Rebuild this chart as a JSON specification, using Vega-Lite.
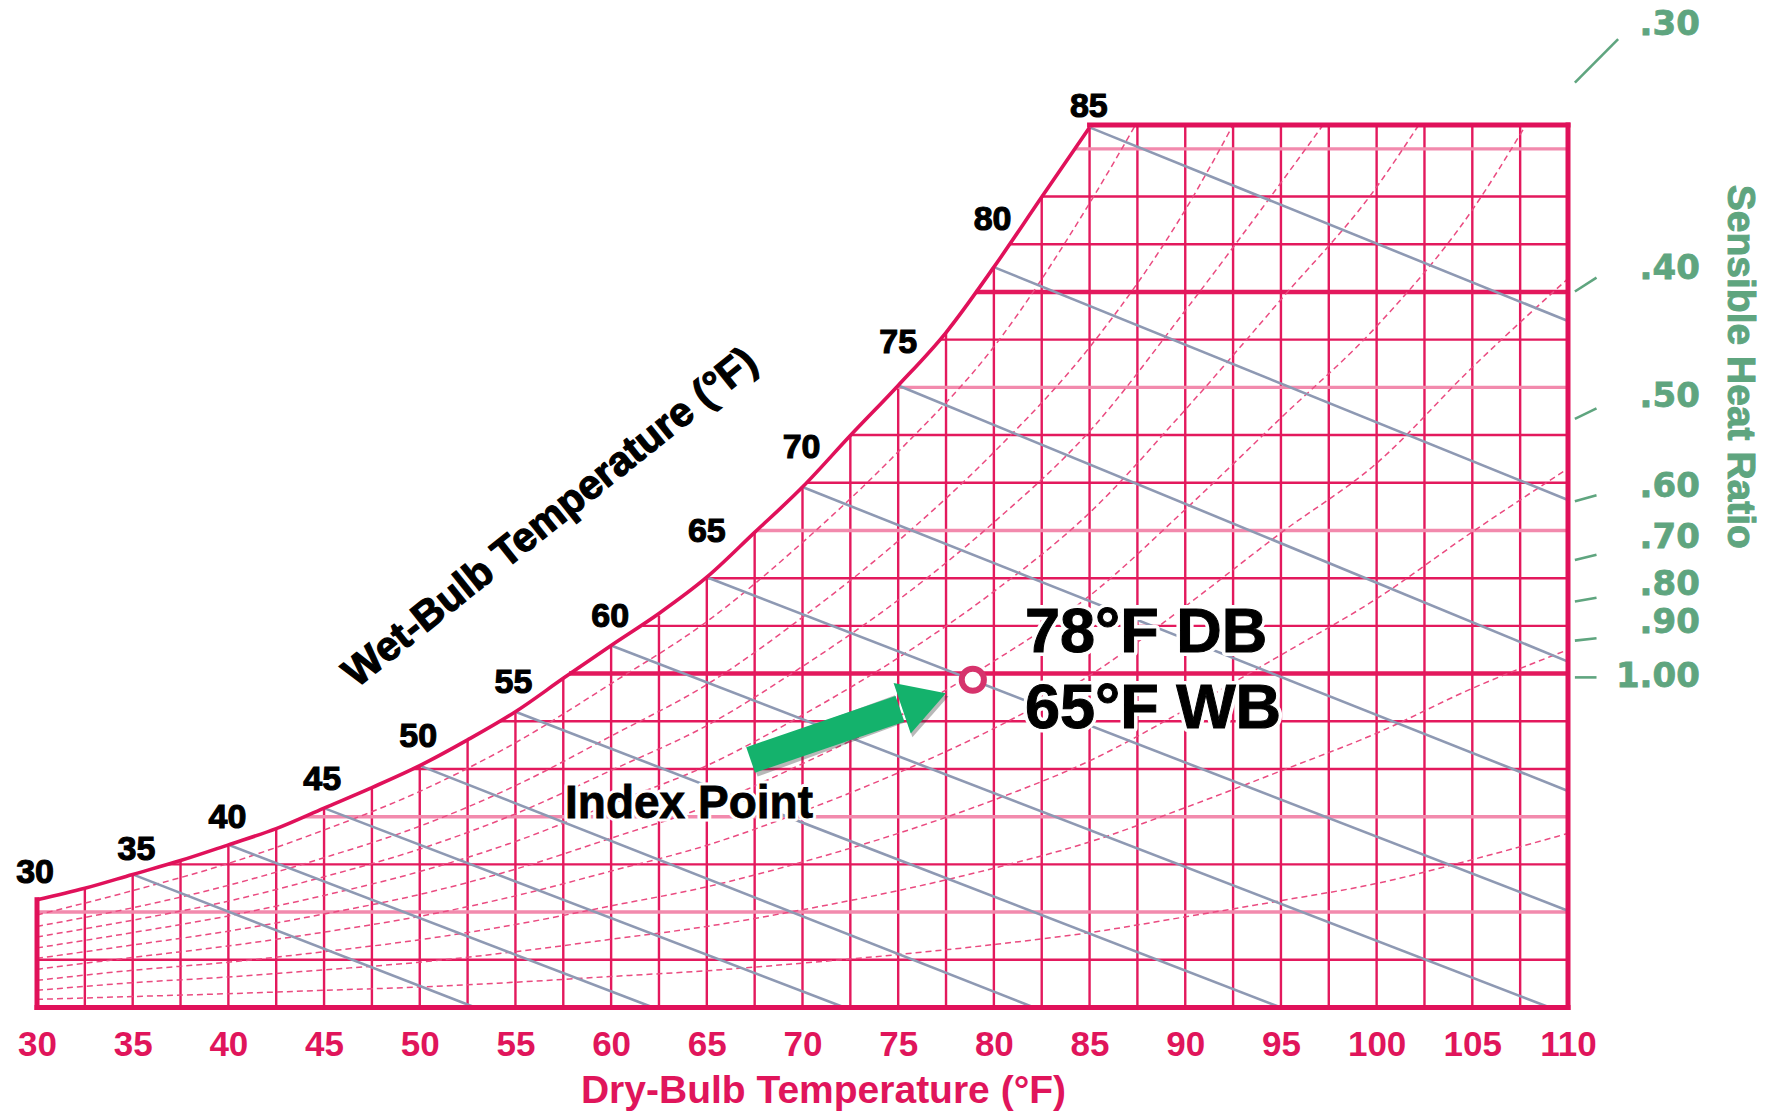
{
  "$schema": "https://vega.github.io/schema/vega-lite/v6.json",
  "autosize": {"type": "none"},
  "width": 1531,
  "height": 882.5,
  "padding": {"left": 37, "top": 125, "right": 205, "bottom": 103.5},
  "background": "white",
  "config": {"view": {"stroke": null}},
  "datasets": {
    "vlines": [
      {"db": 32.5, "w": 0, "w2": 25.0}, {"db": 35, "w": 0, "w2": 27.9}, {"db": 37.5, "w": 0, "w2": 30.8},
      {"db": 40, "w": 0, "w2": 34.1}, {"db": 42.5, "w": 0, "w2": 37.5}, {"db": 45, "w": 0, "w2": 41.8},
      {"db": 47.5, "w": 0, "w2": 46.1}, {"db": 50, "w": 0, "w2": 50.7}, {"db": 52.5, "w": 0, "w2": 56.1},
      {"db": 55, "w": 0, "w2": 62.0}, {"db": 57.5, "w": 0, "w2": 69.2}, {"db": 60, "w": 0, "w2": 75.9},
      {"db": 62.5, "w": 0, "w2": 82.2}, {"db": 65, "w": 0, "w2": 90.2}, {"db": 67.5, "w": 0, "w2": 99.6},
      {"db": 70, "w": 0, "w2": 109.1}, {"db": 72.5, "w": 0, "w2": 119.9}, {"db": 75, "w": 0, "w2": 130.4},
      {"db": 77.5, "w": 0, "w2": 141.5}, {"db": 80, "w": 0, "w2": 155.2}, {"db": 82.5, "w": 0, "w2": 169.9},
      {"db": 85, "w": 0, "w2": 184.5}, {"db": 87.5, "w": 0, "w2": 185}, {"db": 90, "w": 0, "w2": 185},
      {"db": 92.5, "w": 0, "w2": 185}, {"db": 95, "w": 0, "w2": 185}, {"db": 97.5, "w": 0, "w2": 185},
      {"db": 100, "w": 0, "w2": 185}, {"db": 102.5, "w": 0, "w2": 185}, {"db": 105, "w": 0, "w2": 185},
      {"db": 107.5, "w": 0, "w2": 185}
    ],
    "hlines": [
      {"w": 10, "db": 30, "db2": 110, "kind": "normal"},
      {"w": 20, "db": 30, "db2": 110, "kind": "pale"},
      {"w": 30, "db": 36.81, "db2": 110, "kind": "normal"},
      {"w": 40, "db": 43.95, "db2": 110, "kind": "pale"},
      {"w": 50, "db": 49.62, "db2": 110, "kind": "normal"},
      {"w": 60, "db": 54.15, "db2": 110, "kind": "normal"},
      {"w": 70, "db": 57.8, "db2": 110, "kind": "thick"},
      {"w": 80, "db": 61.63, "db2": 110, "kind": "normal"},
      {"w": 90, "db": 64.94, "db2": 110, "kind": "normal"},
      {"w": 100, "db": 67.61, "db2": 110, "kind": "pale"},
      {"w": 110, "db": 70.21, "db2": 110, "kind": "normal"},
      {"w": 120, "db": 72.52, "db2": 110, "kind": "normal"},
      {"w": 130, "db": 74.9, "db2": 110, "kind": "pale"},
      {"w": 140, "db": 77.16, "db2": 110, "kind": "normal"},
      {"w": 150, "db": 79.05, "db2": 110, "kind": "thick"},
      {"w": 160, "db": 80.82, "db2": 110, "kind": "normal"},
      {"w": 170, "db": 82.52, "db2": 110, "kind": "normal"},
      {"w": 180, "db": 84.23, "db2": 110, "kind": "pale"}
    ],
    "sat": [
      {"db": 30, "w": 22.6}, {"db": 32.5, "w": 25.0}, {"db": 35, "w": 27.9}, {"db": 37.5, "w": 30.8},
      {"db": 40, "w": 34.1}, {"db": 42.5, "w": 37.5}, {"db": 45, "w": 41.8}, {"db": 47.5, "w": 46.1},
      {"db": 50, "w": 50.7}, {"db": 52.5, "w": 56.1}, {"db": 55, "w": 62.0}, {"db": 57.5, "w": 69.0},
      {"db": 60, "w": 75.9}, {"db": 62.5, "w": 82.6}, {"db": 65, "w": 90.2}, {"db": 67.5, "w": 99.6},
      {"db": 70, "w": 109.1}, {"db": 72.5, "w": 119.9}, {"db": 75, "w": 130.4}, {"db": 77.5, "w": 141.5},
      {"db": 80, "w": 155.2}, {"db": 82.5, "w": 169.9}, {"db": 85, "w": 184.5}
    ],
    "frame": [
      {"db": 30, "w": 0, "db2": 30, "w2": 22.6},
      {"db": 30, "w": 0, "db2": 110, "w2": 0},
      {"db": 110, "w": 0, "db2": 110, "w2": 185},
      {"db": 85, "w": 185, "db2": 110, "w2": 185}
    ],
    "wb": [
      {"wb": 35, "db": 35, "w": 27.9, "db2": 52.9, "w2": 0},
      {"wb": 40, "db": 40, "w": 34.1, "db2": 62.2, "w2": 0},
      {"wb": 45, "db": 45, "w": 41.8, "db2": 72.2, "w2": 0},
      {"wb": 50, "db": 50, "w": 50.7, "db2": 82.1, "w2": 0},
      {"wb": 55, "db": 55, "w": 62.0, "db2": 95.0, "w2": 0},
      {"wb": 60, "db": 60, "w": 75.9, "db2": 109.05, "w2": 0},
      {"wb": 65, "db": 65, "w": 90.2, "db2": 110, "w2": 20.3},
      {"wb": 70, "db": 70, "w": 109.1, "db2": 110, "w2": 45.4},
      {"wb": 75, "db": 75, "w": 130.4, "db2": 110, "w2": 72.5},
      {"wb": 80, "db": 80, "w": 155.2, "db2": 110, "w2": 106.4},
      {"wb": 85, "db": 85, "w": 184.5, "db2": 110, "w2": 143.9}
    ],
    "rh": [
      {"rh": 10, "db": 30, "w": 1.7}, {"rh": 10, "db": 35, "w": 2.3}, {"rh": 10, "db": 40, "w": 2.9}, {"rh": 10, "db": 45, "w": 3.6},
      {"rh": 10, "db": 50, "w": 4.3}, {"rh": 10, "db": 55, "w": 5.3}, {"rh": 10, "db": 60, "w": 6.5}, {"rh": 10, "db": 65, "w": 7.7},
      {"rh": 10, "db": 70, "w": 9.3}, {"rh": 10, "db": 75, "w": 11.1}, {"rh": 10, "db": 80, "w": 13.2}, {"rh": 10, "db": 85, "w": 15.7},
      {"rh": 10, "db": 90, "w": 19.0}, {"rh": 10, "db": 95, "w": 22.4}, {"rh": 10, "db": 100, "w": 26.0}, {"rh": 10, "db": 105, "w": 31.0},
      {"rh": 10, "db": 110, "w": 36.5},
      {"rh": 20, "db": 30, "w": 3.6}, {"rh": 20, "db": 35, "w": 5.2}, {"rh": 20, "db": 40, "w": 6.4}, {"rh": 20, "db": 45, "w": 7.9},
      {"rh": 20, "db": 50, "w": 9.5}, {"rh": 20, "db": 55, "w": 11.7}, {"rh": 20, "db": 60, "w": 14.3}, {"rh": 20, "db": 65, "w": 17.0},
      {"rh": 20, "db": 70, "w": 20.5}, {"rh": 20, "db": 75, "w": 24.5}, {"rh": 20, "db": 80, "w": 29.2}, {"rh": 20, "db": 85, "w": 34.7},
      {"rh": 20, "db": 90, "w": 41.9}, {"rh": 20, "db": 95, "w": 49.6}, {"rh": 20, "db": 100, "w": 57.5}, {"rh": 20, "db": 105, "w": 66.9},
      {"rh": 20, "db": 110, "w": 75.0},
      {"rh": 30, "db": 30, "w": 5.7}, {"rh": 30, "db": 35, "w": 7.8}, {"rh": 30, "db": 40, "w": 9.5}, {"rh": 30, "db": 45, "w": 11.7},
      {"rh": 30, "db": 50, "w": 14.2}, {"rh": 30, "db": 55, "w": 17.4}, {"rh": 30, "db": 60, "w": 21.3}, {"rh": 30, "db": 65, "w": 25.3},
      {"rh": 30, "db": 70, "w": 30.5}, {"rh": 30, "db": 75, "w": 36.5}, {"rh": 30, "db": 80, "w": 43.5}, {"rh": 30, "db": 85, "w": 51.7},
      {"rh": 30, "db": 90, "w": 62.4}, {"rh": 30, "db": 95, "w": 73.9}, {"rh": 30, "db": 100, "w": 85.7}, {"rh": 30, "db": 105, "w": 99.7},
      {"rh": 30, "db": 110, "w": 113.0},
      {"rh": 40, "db": 30, "w": 8.0}, {"rh": 40, "db": 35, "w": 10.5}, {"rh": 40, "db": 40, "w": 12.9}, {"rh": 40, "db": 45, "w": 15.8},
      {"rh": 40, "db": 50, "w": 19.1}, {"rh": 40, "db": 55, "w": 23.4}, {"rh": 40, "db": 60, "w": 28.6}, {"rh": 40, "db": 65, "w": 34.0},
      {"rh": 40, "db": 70, "w": 41.1}, {"rh": 40, "db": 75, "w": 49.2}, {"rh": 40, "db": 80, "w": 58.5}, {"rh": 40, "db": 85, "w": 69.6},
      {"rh": 40, "db": 90, "w": 84.1}, {"rh": 40, "db": 95, "w": 99.5}, {"rh": 40, "db": 100, "w": 114.1}, {"rh": 40, "db": 105, "w": 134.2},
      {"rh": 40, "db": 110, "w": 152.8},
      {"rh": 50, "db": 30, "w": 10.3}, {"rh": 50, "db": 35, "w": 13.1}, {"rh": 50, "db": 40, "w": 16.0}, {"rh": 50, "db": 45, "w": 19.6},
      {"rh": 50, "db": 50, "w": 23.7}, {"rh": 50, "db": 55, "w": 29.0}, {"rh": 50, "db": 60, "w": 35.5}, {"rh": 50, "db": 65, "w": 42.2},
      {"rh": 50, "db": 70, "w": 51.1}, {"rh": 50, "db": 75, "w": 61.0}, {"rh": 50, "db": 80, "w": 72.6}, {"rh": 50, "db": 85, "w": 86.3},
      {"rh": 50, "db": 90, "w": 104.4}, {"rh": 50, "db": 95, "w": 123.6}, {"rh": 50, "db": 100, "w": 142.8}, {"rh": 50, "db": 105, "w": 167.2},
      {"rh": 50, "db": 107.8, "w": 185},
      {"rh": 60, "db": 30, "w": 12.5}, {"rh": 60, "db": 35, "w": 15.7}, {"rh": 60, "db": 40, "w": 19.2}, {"rh": 60, "db": 45, "w": 23.5},
      {"rh": 60, "db": 50, "w": 28.5}, {"rh": 60, "db": 55, "w": 34.8}, {"rh": 60, "db": 60, "w": 42.7}, {"rh": 60, "db": 65, "w": 50.7},
      {"rh": 60, "db": 70, "w": 61.3}, {"rh": 60, "db": 75, "w": 73.3}, {"rh": 60, "db": 80, "w": 87.2}, {"rh": 60, "db": 85, "w": 103.7},
      {"rh": 60, "db": 90, "w": 125.3}, {"rh": 60, "db": 95, "w": 148.4}, {"rh": 60, "db": 100, "w": 172.0}, {"rh": 60, "db": 102.2, "w": 185},
      {"rh": 70, "db": 30, "w": 14.8}, {"rh": 70, "db": 35, "w": 18.3}, {"rh": 70, "db": 40, "w": 22.3}, {"rh": 70, "db": 45, "w": 27.4},
      {"rh": 70, "db": 50, "w": 33.2}, {"rh": 70, "db": 55, "w": 40.6}, {"rh": 70, "db": 60, "w": 49.7}, {"rh": 70, "db": 65, "w": 59.1},
      {"rh": 70, "db": 70, "w": 71.5}, {"rh": 70, "db": 75, "w": 85.4}, {"rh": 70, "db": 80, "w": 101.7}, {"rh": 70, "db": 85, "w": 120.8},
      {"rh": 70, "db": 90, "w": 146.1}, {"rh": 70, "db": 95, "w": 172.9}, {"rh": 70, "db": 97.2, "w": 185},
      {"rh": 80, "db": 30, "w": 17.0}, {"rh": 80, "db": 35, "w": 20.9}, {"rh": 80, "db": 40, "w": 25.6}, {"rh": 80, "db": 45, "w": 31.4},
      {"rh": 80, "db": 50, "w": 38.0}, {"rh": 80, "db": 55, "w": 46.5}, {"rh": 80, "db": 60, "w": 56.9}, {"rh": 80, "db": 65, "w": 67.7},
      {"rh": 80, "db": 70, "w": 81.8}, {"rh": 80, "db": 75, "w": 97.8}, {"rh": 80, "db": 80, "w": 116.4}, {"rh": 80, "db": 85, "w": 138.4},
      {"rh": 80, "db": 90, "w": 167.2}, {"rh": 80, "db": 92.5, "w": 185},
      {"rh": 90, "db": 30, "w": 19.4}, {"rh": 90, "db": 35, "w": 24.5}, {"rh": 90, "db": 40, "w": 30.2}, {"rh": 90, "db": 45, "w": 37.2},
      {"rh": 90, "db": 50, "w": 45.3}, {"rh": 90, "db": 55, "w": 55.5}, {"rh": 90, "db": 60, "w": 67.9}, {"rh": 90, "db": 65, "w": 80.9},
      {"rh": 90, "db": 70, "w": 97.5}, {"rh": 90, "db": 75, "w": 116.5}, {"rh": 90, "db": 80, "w": 138.5}, {"rh": 90, "db": 85, "w": 168.6},
      {"rh": 90, "db": 87.4, "w": 185}
    ],
    "wblabels": [
      {"label": "30", "db": 29.9, "w": 28.2}, {"label": "35", "db": 35.2, "w": 33.1}, {"label": "40", "db": 39.95, "w": 39.7},
      {"label": "45", "db": 44.9, "w": 47.7}, {"label": "50", "db": 49.92, "w": 56.8}, {"label": "55", "db": 54.9, "w": 68.0},
      {"label": "60", "db": 59.95, "w": 81.9}, {"label": "65", "db": 65.0, "w": 99.7}, {"label": "70", "db": 69.95, "w": 117.2},
      {"label": "75", "db": 75.0, "w": 139.2}, {"label": "80", "db": 79.93, "w": 165.1}, {"label": "85", "db": 84.96, "w": 188.8}
    ],
    "shrticks": [
      {"shr": ".30", "db": 110.36, "w": 193.9, "db2": 112.62, "w2": 203.0},
      {"shr": ".40", "db": 110.36, "w": 150.1, "db2": 111.49, "w2": 153.0},
      {"shr": ".50", "db": 110.36, "w": 123.4, "db2": 111.49, "w2": 125.6},
      {"shr": ".60", "db": 110.36, "w": 106.1, "db2": 111.49, "w2": 107.4},
      {"shr": ".70", "db": 110.36, "w": 93.8, "db2": 111.49, "w2": 94.9},
      {"shr": ".80", "db": 110.36, "w": 85.1, "db2": 111.49, "w2": 85.9},
      {"shr": ".90", "db": 110.36, "w": 76.9, "db2": 111.49, "w2": 77.4},
      {"shr": "1.00", "db": 110.36, "w": 69.2, "db2": 111.49, "w2": 69.2}
    ],
    "shrlabels": [
      {"label": ".30", "db": 116.89, "w": 205.9}, {"label": ".40", "db": 116.89, "w": 154.9},
      {"label": ".50", "db": 116.89, "w": 128.0}, {"label": ".60", "db": 116.89, "w": 109.2},
      {"label": ".70", "db": 116.89, "w": 98.4}, {"label": ".80", "db": 116.89, "w": 88.6},
      {"label": ".90", "db": 116.89, "w": 80.6}, {"label": "1.00", "db": 116.89, "w": 69.3}
    ],
    "shrtitle": [{"label": "Sensible Heat Ratio", "db": 118.98, "w": 134.3}],
    "wbtitle": [{"label": "Wet-Bulb Temperature (°F)", "db": 56.84, "w": 102.6}],
    "arrow": [{"db": 67.29, "w": 51.9, "db2": 75.09, "w2": 62.6}],
    "head": [{"db": 76.35, "w": 64.3}],
    "index": [{"db": 78.9, "w": 68.7}],
    "state": [
      {"label": "78°F DB", "db": 81.62, "w": 74.6},
      {"label": "65°F WB", "db": 81.62, "w": 58.5}
    ],
    "indexlabel": [{"label": "Index Point", "db": 64.07, "w": 39.7}]
  },
  "encoding": {
    "x": {
      "field": "db", "type": "quantitative",
      "scale": {"domain": [30, 110], "nice": false, "zero": false},
      "axis": {
        "values": [30, 35, 40, 45, 50, 55, 60, 65, 70, 75, 80, 85, 90, 95, 100, 105, 110],
        "title": "Dry-Bulb Temperature (°F)",
        "grid": false, "ticks": false, "domain": false,
        "labelFont": "Liberation Sans", "labelFontWeight": "bold", "labelFontSize": 35,
        "labelColor": "#e0155b", "labelPadding": 20, "labelFlush": false, "labelOverlap": false,
        "titleFont": "Liberation Sans", "titleFontWeight": "bold", "titleFontSize": 39,
        "titleColor": "#e0155b", "titleX": 786, "titleY": 94.5, "titleBaseline": "alphabetic", "titleAlign": "center"
      }
    },
    "y": {
      "field": "w", "type": "quantitative",
      "scale": {"domain": [0, 185], "nice": false, "zero": false},
      "axis": null
    }
  },
  "layer": [
    {
      "data": {"name": "vlines"},
      "mark": {"type": "rule", "color": "#e3195d", "strokeWidth": 2.4},
      "encoding": {"y2": {"field": "w2"}}
    },
    {
      "data": {"name": "hlines"},
      "mark": {"type": "rule"},
      "encoding": {
        "x2": {"field": "db2"},
        "stroke": {"field": "kind", "type": "nominal", "legend": null,
          "scale": {"domain": ["normal", "pale", "thick"], "range": ["#e3195d", "#f28aad", "#e3195d"]}},
        "strokeWidth": {"field": "kind", "type": "nominal", "legend": null,
          "scale": {"domain": ["normal", "pale", "thick"], "range": [2.4, 4.5, 3.4]}}
      }
    },
    {
      "data": {"name": "rh"},
      "mark": {"type": "line", "color": "#ea4b80", "strokeWidth": 1.5, "strokeDash": [6, 4], "interpolate": "monotone"},
      "encoding": {"detail": {"field": "rh", "type": "nominal"}}
    },
    {
      "data": {"name": "wb"},
      "mark": {"type": "rule", "color": "#8e99b3", "strokeWidth": 2.6},
      "encoding": {"x2": {"field": "db2"}, "y2": {"field": "w2"}}
    },
    {
      "data": {"name": "frame"},
      "mark": {"type": "rule", "color": "#e0115a", "strokeWidth": 5, "strokeCap": "square"},
      "encoding": {"x2": {"field": "db2"}, "y2": {"field": "w2"}}
    },
    {
      "data": {"name": "sat"},
      "mark": {"type": "line", "color": "#e0115a", "strokeWidth": 3.6, "interpolate": "monotone"}
    },
    {
      "data": {"name": "wblabels"},
      "mark": {"type": "text", "font": "Liberation Sans", "fontWeight": "bold", "fontSize": 34, "color": "black", "stroke": "black", "strokeWidth": 1.1, "align": "center", "baseline": "middle"},
      "encoding": {"text": {"field": "label"}}
    },
    {
      "data": {"name": "wbtitle"},
      "mark": {"type": "text", "font": "Liberation Sans", "fontWeight": "bold", "fontSize": 41, "color": "black", "stroke": "black", "strokeWidth": 1.2, "align": "center", "baseline": "middle", "angle": -38.6},
      "encoding": {"text": {"field": "label"}}
    },
    {
      "data": {"name": "shrticks"},
      "mark": {"type": "rule", "color": "#5fa57f", "strokeWidth": 2.6},
      "encoding": {"x2": {"field": "db2"}, "y2": {"field": "w2"}}
    },
    {
      "data": {"name": "shrlabels"},
      "mark": {"type": "text", "font": "DejaVu Sans", "fontWeight": "bold", "fontSize": 34, "color": "#5fa57f", "stroke": "#5fa57f", "strokeWidth": 0.8, "align": "right", "baseline": "middle"},
      "encoding": {"text": {"field": "label"}}
    },
    {
      "data": {"name": "shrtitle"},
      "mark": {"type": "text", "font": "Liberation Sans", "fontWeight": "bold", "fontSize": 39, "color": "#5fa57f", "stroke": "#5fa57f", "strokeWidth": 1, "align": "center", "baseline": "middle", "angle": 90},
      "encoding": {"text": {"field": "label"}}
    },
    {
      "data": {"name": "arrow"},
      "mark": {"type": "rule", "color": "#333333", "opacity": 0.35, "strokeWidth": 29, "xOffset": 2, "yOffset": 3},
      "encoding": {"x2": {"field": "db2"}, "y2": {"field": "w2"}}
    },
    {
      "data": {"name": "head"},
      "mark": {"type": "point", "shape": "triangle-right", "filled": true, "color": "#333333", "opacity": 0.35, "size": 3000, "angle": -18.8, "xOffset": 2, "yOffset": 3}
    },
    {
      "data": {"name": "arrow"},
      "mark": {"type": "rule", "color": "#14b26c", "strokeWidth": 27},
      "encoding": {"x2": {"field": "db2"}, "y2": {"field": "w2"}}
    },
    {
      "data": {"name": "head"},
      "mark": {"type": "point", "shape": "triangle-right", "filled": true, "color": "#14b26c", "opacity": 1, "size": 2841, "angle": -18.8}
    },
    {
      "data": {"name": "index"},
      "mark": {"type": "point", "shape": "circle", "filled": false, "fill": "white", "fillOpacity": 1, "stroke": "#d6336c", "strokeWidth": 6, "opacity": 1, "size": 491}
    },
    {
      "data": {"name": "state"},
      "mark": {"type": "text", "font": "Liberation Sans", "fontWeight": "bold", "fontSize": 63, "fill": "white", "stroke": "white", "strokeWidth": 8, "strokeJoin": "round", "align": "left", "baseline": "alphabetic"},
      "encoding": {"text": {"field": "label"}}
    },
    {
      "data": {"name": "state"},
      "mark": {"type": "text", "font": "Liberation Sans", "fontWeight": "bold", "fontSize": 63, "color": "black", "stroke": "black", "strokeWidth": 1, "align": "left", "baseline": "alphabetic"},
      "encoding": {"text": {"field": "label"}}
    },
    {
      "data": {"name": "indexlabel"},
      "mark": {"type": "text", "font": "Liberation Sans", "fontWeight": "bold", "fontSize": 46, "fill": "white", "stroke": "white", "strokeWidth": 7, "strokeJoin": "round", "align": "center", "baseline": "alphabetic"},
      "encoding": {"text": {"field": "label"}}
    },
    {
      "data": {"name": "indexlabel"},
      "mark": {"type": "text", "font": "Liberation Sans", "fontWeight": "bold", "fontSize": 46, "color": "black", "stroke": "black", "strokeWidth": 0.8, "align": "center", "baseline": "alphabetic"},
      "encoding": {"text": {"field": "label"}}
    }
  ]
}
